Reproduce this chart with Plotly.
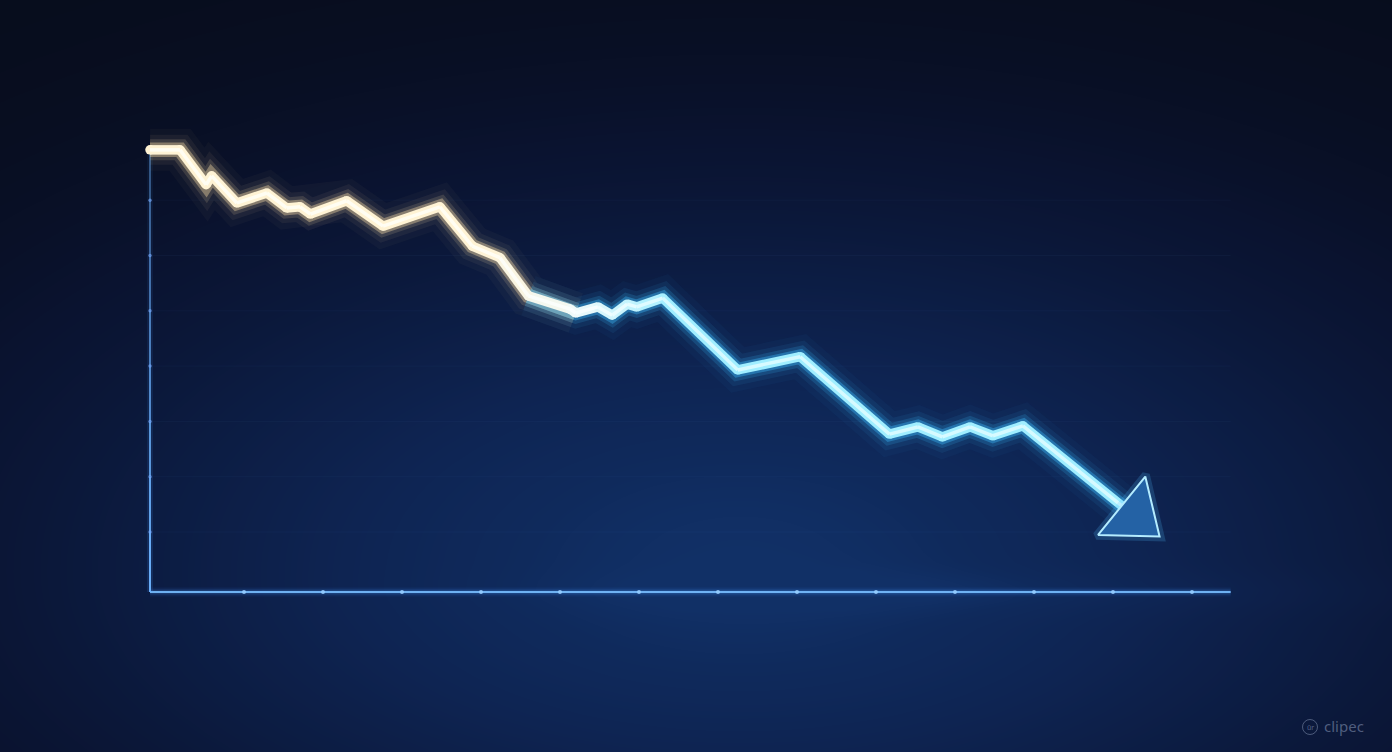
import numpy as np
import plotly.graph_objects as go

W, H = 1392, 752

# ---------------- data ----------------
period = [-1.19, -0.81, -0.48, -0.41, -0.09, 0.29, 0.54, 0.71, 0.84, 1.30,
          1.76, 2.48, 2.89, 3.24, 3.60, 4.13, 4.20, 4.48, 4.66, 4.85,
          4.97, 5.30, 6.25, 7.04, 8.17, 8.53, 8.84, 9.19, 9.48, 9.86, 11.27]
value = [7.91, 7.91, 7.28, 7.44, 6.95, 7.13, 6.86, 6.88, 6.75, 6.99,
         6.53, 6.88, 6.17, 5.96, 5.27, 5.03, 4.96, 5.07, 4.92, 5.12,
         5.07, 5.23, 3.93, 4.17, 2.77, 2.90, 2.72, 2.90, 2.74, 2.92, 1.29]
x_ticks = list(range(0, 13))
y_ticks = list(range(1, 8))
x_axis_span = [-1.19, 12.49]
y_axis_span = [-0.085, 7.91]

# ---------------- view ----------------
XR = [-3.089, 14.532]
YR = [-2.978, 10.620]

fig = go.Figure()

# background glow (decorative)
nx, ny = 140, 80
gx = np.linspace(XR[0], XR[1], nx)
gy = np.linspace(YR[0], YR[1], ny)
PX = (gx - XR[0]) / (XR[1] - XR[0]) * W
PY = (YR[1] - gy) / (YR[1] - YR[0]) * H
PXm, PYm = np.meshgrid(PX, PY)
RY = np.where(PYm > 560, 300, 340)
Z = np.exp(-((PXm - 740) / 660) ** 2 - ((PYm - 570) / RY) ** 2)
Z = Z + 0.10 * np.exp(-((PYm - 592) / 20) ** 2) * np.exp(-((PXm - 980) / 360) ** 2)
Z = np.clip(Z, 0, 1)
fig.add_trace(go.Heatmap(
    x=gx, y=gy, z=Z, zmin=0, zmax=1, zsmooth="best", showscale=False, hoverinfo="skip",
    colorscale=[[0, "#070c1b"], [0.2, "#0a1330"], [0.45, "#0c1c42"], [0.7, "#0e2452"],
                [0.9, "#0f2a5c"], [1, "#113066"]]))

# faint horizontal grid
for yt in y_ticks:
    fig.add_trace(go.Scatter(x=x_axis_span, y=[yt, yt], mode="lines",
                             line=dict(color="rgba(120,170,255,0.04)", width=1),
                             hoverinfo="skip", showlegend=False))

# axes (glow + line)
ax_x = [x_axis_span[0], x_axis_span[1]]
ax_y = [y_axis_span[0], y_axis_span[0]]
for w, c in [(9, "rgba(60,140,255,0.08)"), (5, "rgba(80,160,255,0.18)"), (2, "rgba(120,190,255,0.9)")]:
    fig.add_trace(go.Scatter(x=ax_x, y=ax_y, mode="lines", line=dict(color=c, width=w),
                             hoverinfo="skip", showlegend=False))
ypath = [y_axis_span[0]] + y_ticks + [y_axis_span[1]]
for i in range(len(ypath) - 1):
    t = i / (len(ypath) - 2)
    a = 0.95 - 0.55 * t
    for w, c in [(6, f"rgba(70,150,255,{0.15 * a:.3f})"), (2, f"rgba(110,180,255,{a:.3f})")]:
        fig.add_trace(go.Scatter(x=[x_axis_span[0], x_axis_span[0]], y=[ypath[i], ypath[i + 1]],
                                 mode="lines", line=dict(color=c, width=w),
                                 hoverinfo="skip", showlegend=False))
# tick dots
fig.add_trace(go.Scatter(x=x_ticks, y=[y_axis_span[0]] * len(x_ticks), mode="markers",
                         marker=dict(size=4, color="rgba(150,205,255,0.9)"),
                         hoverinfo="skip", showlegend=False))
fig.add_trace(go.Scatter(x=[x_axis_span[0]] * len(y_ticks), y=y_ticks, mode="markers",
                         marker=dict(size=3.5, color="rgba(120,170,255,0.6)"),
                         hoverinfo="skip", showlegend=False))

# ---------------- glowing gradient line ----------------
def tpos(xv):
    return float(np.clip((xv - 3.0) / (5.4 - 3.0), 0, 1))


def grad(stops, t):
    for (p0, c0), (p1, c1) in zip(stops[:-1], stops[1:]):
        if t <= p1:
            u = 0 if p1 == p0 else (t - p0) / (p1 - p0)
            return tuple(int(round(c0[i] + (c1[i] - c0[i]) * u)) for i in range(3))
    return stops[-1][1]


CORE = [(0, (255, 243, 212)), (0.5, (240, 250, 250)), (1, (160, 238, 255))]
CENTER = [(0, (255, 253, 242)), (0.5, (250, 254, 255)), (1, (214, 250, 255))]

# glow: a warm part and a cool part overlapping in the colour transition
warm_end, cool_start = 16, 14
glow_parts = [((255, 226, 170), slice(0, warm_end + 1), [0.03, 0.06, 0.14, 0.38]),
              ((60, 188, 255), slice(cool_start, len(period)), [0.04, 0.08, 0.17, 0.36])]
for li, w in enumerate([42, 30, 21, 14.5]):
    for (r, g, b), sl, alphas in glow_parts:
        fig.add_trace(go.Scatter(x=period[sl], y=value[sl], mode="lines",
                                 line=dict(color=f"rgba({r},{g},{b},{alphas[li]})", width=w),
                                 hoverinfo="skip", showlegend=False))

n = len(period)
for i in range(n - 1):
    xm = (period[i] + period[i + 1]) / 2
    r, g, b = grad(CORE, tpos(xm))
    fig.add_trace(go.Scatter(x=period[i:i + 2], y=value[i:i + 2], mode="lines",
                             line=dict(color=f"rgb({r},{g},{b})", width=9.5),
                             hoverinfo="skip", showlegend=False))
vcols = ["rgb(%d,%d,%d)" % grad(CORE, tpos(xv)) for xv in period]
fig.add_trace(go.Scatter(x=period, y=value, mode="markers",
                         marker=dict(size=9.5, color=vcols, opacity=1, line=dict(width=0)),
                         hoverinfo="skip", showlegend=False))
for i in range(n - 1):
    xm = (period[i] + period[i + 1]) / 2
    r, g, b = grad(CENTER, tpos(xm))
    fig.add_trace(go.Scatter(x=period[i:i + 2], y=value[i:i + 2], mode="lines",
                             line=dict(color=f"rgb({r},{g},{b})", width=3.5),
                             hoverinfo="skip", showlegend=False))

# arrow head at the end of the series (oriented along last segment)
fig.add_trace(go.Scatter(
    x=period[-2:], y=value[-2:], mode="markers", hoverinfo="skip", showlegend=False,
    marker=dict(symbol="triangle-up", angleref="previous", size=[0, 68], opacity=1,
                color=["rgba(0,0,0,0)", "rgba(0,0,0,0)"],
                line=dict(color=["rgba(0,0,0,0)", "rgba(80,190,255,0.2)"], width=[0, 8]))))
fig.add_trace(go.Scatter(
    x=period[-2:], y=value[-2:], mode="markers", hoverinfo="skip", showlegend=False,
    marker=dict(symbol="triangle-up", angleref="previous", size=[0, 65], opacity=1,
                color=["rgba(0,0,0,0)", "rgb(36,98,165)"],
                line=dict(color=["rgba(0,0,0,0)", "#b4ecff"], width=[0, 2]))))

# ---------------- layout ----------------
fig.update_layout(
    width=W, height=H, margin=dict(l=0, r=0, t=0, b=0),
    paper_bgcolor="#080e20", plot_bgcolor="#080e20", showlegend=False,
    xaxis=dict(range=XR, visible=False, showgrid=False, zeroline=False, fixedrange=True),
    yaxis=dict(range=YR, visible=False, showgrid=False, zeroline=False, fixedrange=True),
    shapes=[dict(type="circle", xref="paper", yref="paper",
                 x0=1302.5 / W, x1=1317.5 / W, y0=1 - 734.5 / H, y1=1 - 719.5 / H,
                 line=dict(color="rgba(140,155,185,0.5)", width=1))],
    annotations=[
        dict(text="ūr", xref="paper", yref="paper", x=1310 / W, y=1 - 727 / H,
             showarrow=False, font=dict(family="Noto Sans", size=7, color="rgba(140,155,185,0.6)"),
             xanchor="center", yanchor="middle"),
        dict(text="clipec", xref="paper", yref="paper", x=1322 / W, y=1 - 726 / H,
             showarrow=False, font=dict(family="Noto Sans", size=15, color="rgba(140,155,185,0.55)"),
             xanchor="left", yanchor="middle"),
    ],
)

fig.write_html("out.html", config={"displayModeBar": False},
               post_script="document.body.style.margin='0px';")
